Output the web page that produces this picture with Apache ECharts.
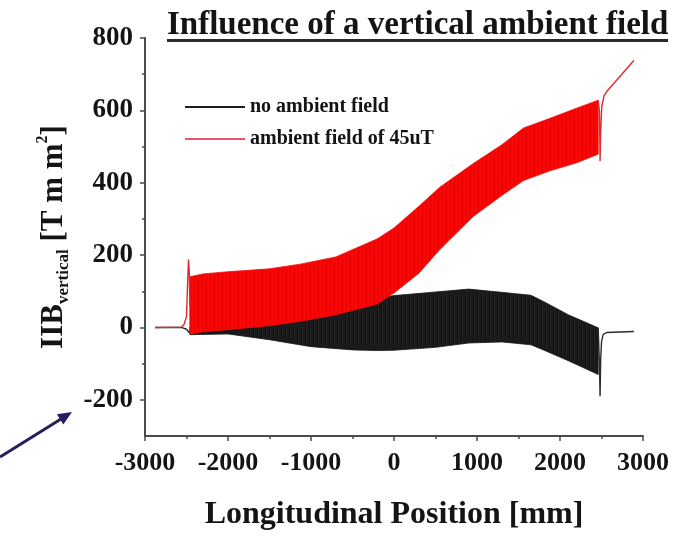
<!DOCTYPE html>
<html>
<head>
<meta charset="utf-8">
<script src="https://cdn.jsdelivr.net/npm/echarts@6/dist/echarts.min.js"></script>
<style>
  html, body { margin: 0; padding: 0; background: #ffffff; }
  #chart { width: 686px; height: 536px; }
</style>
</head>
<body>
<div id="chart"></div>
<script>
// Field integral envelope along the magnet, no ambient field (lower / upper edge of the ripple)
const blackBandX = [-2460, -2000, -1500, -1000, -500, -200, 0, 500, 900, 1300, 1650, 1800, 2100, 2460];
const blackUpper = [0, 3, 10, 25, 55, 80, 88, 98, 106, 97, 89, 72, 35, -1];
const blackLower = [-20, -18, -34, -53, -62, -64, -63, -55, -43, -40, -48, -62, -92, -130];
// entry and exit transients, no ambient field
const blackLeadX = [-2880, -2560, -2500, -2465];
const blackLeadY = [0, 0, -5, -15];
const blackTailX = [2460, 2475, 2483, 2490, 2500, 2520, 2560, 2890];
const blackTailY = [-1, -100, -190, -90, -40, -20, -14, -11];

// Field integral envelope with a 45 uT vertical ambient field
const redBandX = [-2460, -2300, -2000, -1500, -1130, -700, -200, 0, 300, 555, 955, 1300, 1560, 1880, 2200, 2460];
const redUpper = [140, 148, 154, 162, 175, 195, 245, 275, 335, 388, 453, 505, 551, 578, 606, 628];
const redLower = [-18, -12, -6, 5, 17, 35, 65, 95, 150, 216, 307, 365, 406, 433, 455, 479];
// entry and exit transients, ambient field
const redLeadX = [-2880, -2560, -2530, -2500, -2487, -2476, -2466, -2460];
const redLeadY = [0, 1, 8, 30, 120, 188, 150, 60];
const redTailX = [2460, 2475, 2483, 2490, 2503, 2530, 2563, 2890];
const redTailY = [628, 600, 460, 540, 610, 640, 652, 738];

// axis ticks
const yTicks = [-200, 0, 200, 400, 600, 800];
const yMinorTicks = [-100, 100, 300, 500, 700];

const seriesNames = ['no ambient field', 'ambient field of 45uT'];

const SERIF = '"Liberation Serif", "DejaVu Serif", serif';
const INK = '#141414';
const AXIS = '#4a4a4a';

const pairs = (xs, ys) => xs.map((x, i) => [x, ys[i]]);

// fine vertical striping, the look of a densely sampled ripple
function stripes(cols) {
  const c = document.createElement('canvas');
  c.width = cols.length; c.height = 4;
  const g = c.getContext('2d');
  cols.forEach((col, i) => { g.fillStyle = col; g.fillRect(i, 0, 1, 4); });
  return { type: 'pattern', image: c, repeat: 'repeat' };
}

// Ripple band: filled polygon between the lower and upper envelope
function band(name, xs, lo, hi, color, texture) {
  return {
    name: name, type: 'custom', silent: true,
    itemStyle: { color: color },
    data: xs.map((x, i) => [x, lo[i], hi[i]]),
    encode: { x: 0, y: [1, 2] },
    renderItem: function (params, api) {
      if (params.dataIndex !== 0) return null;
      const top = xs.map((x, i) => api.coord([x, hi[i]]));
      const bottom = xs.map((x, i) => api.coord([x, lo[i]])).reverse();
      return {
        type: 'polygon',
        shape: { points: top.concat(bottom) },
        style: { fill: texture, stroke: color, lineWidth: 0.8 }
      };
    }
  };
}

function trace(name, xs, ys, color) {
  return {
    name: name, type: 'line', data: pairs(xs, ys), symbol: 'none', silent: true,
    lineStyle: { color: color, width: 1.4 }, itemStyle: { color: color }
  };
}

const chart = echarts.init(document.getElementById('chart'), null, { renderer: 'canvas' });

chart.setOption({
  animation: false,
  backgroundColor: '#ffffff',
  title: {
    text: 'Influence of a vertical ambient field',
    left: 162, top: 4,
    textStyle: { fontFamily: SERIF, fontWeight: 'bold', fontSize: 33, color: INK }
  },
  graphic: [
    // title underline
    { type: 'rect', shape: { x: 167, y: 39, width: 501, height: 3 }, style: { fill: '#2a2a2a' }, silent: true },
    // pointer arrow towards the axis
    { type: 'line', shape: { x1: 0, y1: 457, x2: 61, y2: 419 }, style: { stroke: '#2a1c5e', lineWidth: 3 }, silent: true },
    { type: 'polygon', shape: { points: [[72, 412], [63.3, 424.5], [56.9, 414.3]] }, style: { fill: '#2a1c5e' }, silent: true }
  ],
  legend: {
    orient: 'vertical', left: 180, top: 92, itemGap: 12,
    itemWidth: 60, itemHeight: 2, icon: 'rect', selectedMode: false,
    textStyle: { fontFamily: SERIF, fontWeight: 'bold', fontSize: 20, color: INK },
    data: [
      { name: seriesNames[0], itemStyle: { color: '#1e1e1e' } },
      { name: seriesNames[1], itemStyle: { color: '#e4566a' } }
    ]
  },
  grid: { left: 145, right: 43, top: 38, bottom: 86 },
  xAxis: {
    type: 'value', min: -3000, max: 3000, interval: 1000,
    axisLine: { onZero: false, lineStyle: { color: AXIS, width: 2 } },
    axisTick: { show: true, length: 5, lineStyle: { color: AXIS, width: 1.5 } },
    minorTick: { show: true, splitNumber: 2, length: 3, lineStyle: { color: AXIS, width: 1.5 } },
    splitLine: { show: false },
    axisLabel: {
      margin: 14, fontFamily: SERIF, fontWeight: 'bold', fontSize: 26, color: INK,
      formatter: (v) => String(v)
    },
    name: 'Longitudinal Position [mm]', nameLocation: 'middle', nameGap: 63,
    nameTextStyle: { fontFamily: SERIF, fontWeight: 'bold', fontSize: 32, color: INK }
  },
  yAxis: [
    {
      type: 'value', min: -300, max: 800,
      axisLine: { show: true, onZero: false, lineStyle: { color: AXIS, width: 2 } },
      axisTick: { show: true, length: 5, customValues: yTicks, lineStyle: { color: AXIS, width: 1.5 } },
      axisLabel: {
        customValues: yTicks, margin: 12, fontFamily: SERIF, fontWeight: 'bold', fontSize: 27, color: INK,
        formatter: (v) => String(v)
      },
      splitLine: { show: false },
      name: '{m|IIB}{s|vertical}{m| [T m m}{p|2}{m|]}',
      nameLocation: 'middle', nameRotate: 90, nameGap: 62,
      nameTextStyle: {
        fontFamily: SERIF, fontWeight: 'bold', fontSize: 31, color: INK,
        rich: {
          m: { fontFamily: SERIF, fontWeight: 'bold', fontSize: 31, lineHeight: 38, color: INK },
          s: { fontFamily: SERIF, fontWeight: 'bold', fontSize: 17, lineHeight: 12, verticalAlign: 'bottom', color: INK },
          p: { fontFamily: SERIF, fontWeight: 'bold', fontSize: 16, lineHeight: 12, verticalAlign: 'top', color: INK }
        }
      }
    },
    {
      type: 'value', min: -300, max: 800, position: 'left',
      axisLine: { show: false, onZero: false },
      axisTick: { show: true, length: 3, customValues: yMinorTicks, lineStyle: { color: AXIS, width: 1.5 } },
      axisLabel: { show: false },
      splitLine: { show: false }
    }
  ],
  series: [
    band(seriesNames[0], blackBandX, blackLower, blackUpper, '#1a1a1a',
      stripes(['#1b1b1b', '#121212', '#242424', '#171717'])),
    trace('nf lead', blackLeadX, blackLeadY, '#2a2a2a'),
    trace('nf tail', blackTailX, blackTailY, '#2a2a2a'),
    band(seriesNames[1], redBandX, redLower, redUpper, '#f50d0d',
      stripes(['#ff0808', '#f60000', '#ec0505', '#fc0303'])),
    trace('af lead', redLeadX, redLeadY, '#dd2a33'),
    trace('af tail', redTailX, redTailY, '#dd2a33')
  ]
});
</script>
</body>
</html>
